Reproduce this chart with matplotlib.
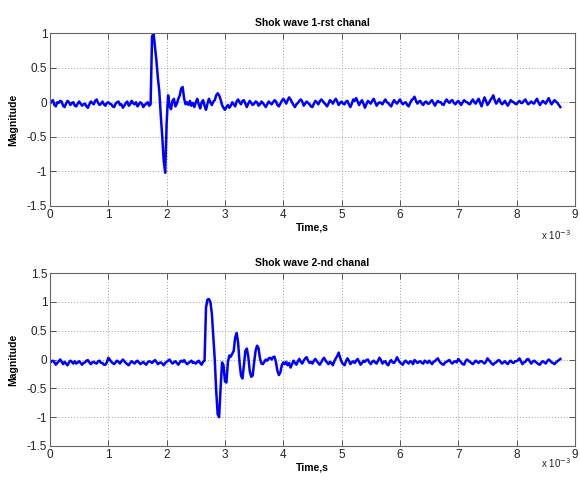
import matplotlib
matplotlib.use("Agg")
import matplotlib.pyplot as plt
import numpy as np
from matplotlib.ticker import FuncFormatter

plt.rcParams['font.family'] = ['Liberation Sans', 'DejaVu Sans']
plt.rcParams['axes.unicode_minus'] = False

dt = 0.025e-3  # sampling step, s

# channel 1 samples (0 .. 8.75 ms), 20 samples per row = 0.5 ms
ch1 = [
    -0.02, 0.01, 0.03, -0.04, -0.06, 0.00, -0.01, 0.02, 0.01, -0.05, -0.07, -0.02, 0.02, 0.00, -0.04, -0.01, 0.00, -0.05, -0.06, -0.02,
    0.01, -0.02, -0.05, -0.03, -0.02, -0.06, -0.08, -0.03, 0.01, -0.01, -0.03, 0.02, 0.04, -0.01, -0.04, -0.02, 0.01, -0.03, -0.05, -0.01,
    0.00, -0.02, -0.03, -0.06, -0.07, -0.02, 0.00, 0.01, -0.04, -0.03, -0.08, -0.05, -0.01, 0.01, -0.05, -0.03, 0.02, -0.01, -0.03, 0.00,
    -0.06, -0.03, 0.00, -0.02, -0.07, -0.04, -0.02, 0.00, -0.05, -0.03, 0.95, 1.00, 0.80, 0.60, 0.35, 0.15, -0.20, -0.50, -0.85, -1.02,
    -0.30, 0.10, -0.05, -0.10, 0.02, 0.05, -0.06, -0.02, 0.05, 0.10, 0.20, 0.22, 0.05, -0.03, 0.00, -0.04, 0.02, -0.05, -0.01, -0.07,
    0.00, 0.05, -0.03, -0.09, 0.00, 0.03, -0.05, -0.11, -0.02, 0.05, 0.00, -0.04, 0.01, 0.03, 0.10, 0.13, 0.10, 0.04, -0.04, -0.08,
    -0.11, -0.07, -0.04, -0.08, -0.05, 0.00, -0.03, -0.06, 0.01, 0.04, 0.00, -0.03, 0.02, 0.03, -0.02, -0.07, -0.02, 0.02, -0.01, -0.04,
    -0.02, 0.01, 0.00, -0.05, -0.03, 0.01, -0.01, -0.04, -0.07, -0.03, 0.01, -0.01, -0.03, 0.00, 0.03, 0.01, -0.04, -0.06, -0.02, 0.02,
    0.05, 0.02, -0.02, 0.03, 0.07, 0.04, 0.00, -0.04, -0.07, -0.03, -0.01, 0.02, 0.04, 0.01, -0.05, -0.02, 0.01, -0.01, -0.03, -0.06,
    -0.07, -0.02, 0.02, 0.00, -0.03, 0.01, 0.04, 0.02, -0.01, -0.03, -0.06, -0.02, 0.03, 0.01, -0.02, 0.02, 0.05, 0.01, -0.04, -0.01,
    0.01, -0.02, -0.03, 0.01, 0.02, -0.03, -0.07, -0.02, 0.04, 0.02, 0.06, 0.01, -0.04, 0.00, 0.03, -0.02, -0.08, -0.03, 0.02, 0.00,
    -0.02, 0.02, 0.05, 0.00, -0.05, -0.02, 0.00, -0.01, -0.03, 0.01, 0.04, 0.00, -0.01, -0.04, -0.06, -0.01, 0.03, 0.00, -0.02, 0.01,
    0.04, 0.00, -0.03, -0.01, 0.00, -0.04, -0.06, -0.01, 0.03, 0.05, 0.08, 0.02, -0.02, 0.01, 0.02, -0.02, -0.04, 0.00, 0.01, -0.02,
    -0.02, 0.01, 0.03, -0.01, -0.05, -0.01, 0.02, 0.00, 0.00, -0.03, -0.04, 0.01, 0.04, 0.01, -0.01, 0.02, 0.03, -0.01, -0.03, 0.00,
    0.02, -0.01, -0.04, 0.00, 0.03, 0.01, 0.00, -0.02, -0.03, 0.01, 0.04, 0.00, -0.02, 0.02, 0.05, -0.01, -0.06, 0.01, 0.07, 0.02,
    -0.04, -0.01, 0.03, 0.06, 0.10, 0.03, -0.02, 0.01, 0.05, 0.00, -0.03, -0.01, 0.02, -0.02, -0.05, -0.01, 0.03, 0.01, 0.00, -0.02,
    -0.03, 0.00, 0.02, -0.01, -0.01, 0.02, 0.04, 0.00, -0.03, -0.01, 0.01, -0.01, -0.02, 0.02, 0.05, 0.00, -0.04, -0.01, 0.02, 0.00,
    -0.02, 0.02, 0.06, 0.01, -0.03, 0.00, 0.03, 0.01, -0.01, -0.04, -0.07,
]

# channel 2 samples (0 .. 8.75 ms), 20 samples per row = 0.5 ms
ch2 = [
    -0.06, -0.03, -0.02, -0.05, -0.09, -0.06, -0.03, 0.00, -0.04, -0.08, -0.04, -0.07, -0.10, -0.05, -0.02, -0.04, -0.07, -0.03, -0.07, -0.05,
    -0.03, -0.06, -0.09, -0.06, -0.05, -0.02, -0.01, -0.05, -0.08, -0.05, -0.04, -0.06, -0.07, -0.03, -0.02, -0.06, -0.06, -0.09, -0.09, -0.05,
    0.03, 0.00, -0.04, -0.06, -0.08, -0.05, -0.02, -0.04, -0.07, -0.03, 0.00, -0.03, -0.06, -0.08, -0.10, -0.06, -0.03, -0.05, -0.07, -0.04,
    -0.02, -0.05, -0.08, -0.06, -0.04, -0.07, -0.09, -0.05, -0.03, -0.04, -0.06, -0.03, -0.01, -0.04, -0.08, -0.06, -0.05, -0.07, -0.10, -0.06,
    -0.04, -0.02, 0.00, -0.04, -0.07, -0.05, -0.03, -0.06, -0.09, -0.05, -0.02, -0.04, -0.01, -0.05, -0.08, -0.06, -0.04, -0.02, -0.06, -0.05,
    -0.07, -0.04, -0.02, -0.06, -0.09, -0.04, -0.02, 0.90, 1.04, 1.05, 1.00, 0.80, 0.40, 0.00, -0.55, -0.95, -1.00, -0.50, -0.05, -0.10,
    -0.38, -0.40, -0.05, 0.07, 0.05, 0.10, 0.15, 0.38, 0.46, 0.30, -0.05, -0.28, -0.33, -0.10, 0.15, 0.19, 0.05, -0.20, -0.30, -0.28,
    -0.05, 0.15, 0.24, 0.20, 0.02, -0.07, -0.08, -0.04, 0.00, -0.02, 0.02, 0.03, 0.00, 0.04, 0.05, -0.05, -0.20, -0.27, -0.22, -0.10,
    -0.05, -0.08, -0.04, -0.10, -0.06, -0.14, -0.08, -0.02, -0.06, -0.09, -0.03, 0.01, -0.04, -0.07, -0.02, 0.02, 0.04, -0.02, -0.06, -0.04,
    -0.07, -0.02, 0.01, -0.03, -0.06, -0.09, -0.05, 0.00, 0.03, -0.02, -0.05, -0.08, -0.04, -0.06, -0.10, -0.03, 0.02, 0.06, 0.12, 0.03,
    -0.04, -0.08, -0.10, -0.03, 0.02, -0.02, -0.08, -0.05, -0.03, -0.06, -0.02, 0.01, -0.04, -0.09, -0.06, -0.02, -0.04, -0.01, 0.00, -0.05,
    -0.08, -0.04, -0.02, -0.05, -0.07, -0.02, 0.03, -0.01, -0.07, -0.04, -0.03, -0.08, -0.10, -0.04, -0.01, -0.05, -0.06, -0.02, 0.04, -0.01,
    -0.05, -0.07, -0.09, -0.04, -0.02, -0.05, -0.07, -0.03, -0.04, -0.08, -0.01, -0.03, -0.06, -0.04, -0.03, -0.06, -0.07, -0.02, -0.04, -0.06,
    -0.02, -0.05, -0.08, -0.04, -0.03, 0.00, 0.02, -0.03, -0.06, -0.08, -0.09, -0.05, -0.04, -0.02, -0.01, -0.05, -0.07, -0.04, -0.03, -0.05,
    0.01, -0.02, -0.05, -0.08, -0.09, -0.03, 0.00, -0.02, -0.04, -0.06, -0.08, -0.05, -0.02, -0.04, -0.06, -0.03, -0.03, -0.05, -0.07, -0.04,
    0.02, -0.01, -0.04, -0.07, -0.09, -0.06, -0.05, -0.02, -0.01, -0.04, -0.07, -0.05, -0.03, -0.06, -0.08, -0.04, -0.02, -0.05, -0.06, -0.03,
    -0.03, -0.01, 0.02, -0.03, -0.08, -0.05, -0.04, 0.00, 0.01, -0.03, -0.07, -0.04, -0.02, -0.04, -0.06, -0.08, -0.09, -0.05, -0.03, -0.05,
    -0.07, -0.03, 0.00, -0.02, -0.05, -0.06, -0.08, -0.05, -0.03, -0.01, 0.01,
]

titles = ['Shok wave 1-rst chanal', 'Shok wave 2-nd chanal']
ylims = [(-1.5, 1.0), (-1.5, 1.5)]
yticks = [[-1.5, -1, -0.5, 0, 0.5, 1], [-1.5, -1, -0.5, 0, 0.5, 1, 1.5]]

t1 = np.arange(len(ch1)) * dt
t2 = np.arange(len(ch2)) * dt

fig = plt.figure(figsize=(5.8, 4.8), dpi=100)
ax1 = fig.add_axes([0.0862, 0.571, 0.905, 0.360])
ax2 = fig.add_axes([0.0862, 0.071, 0.905, 0.360])

for ax, t, y, title, yl, yt in zip([ax1, ax2], [t1, t2], [ch1, ch2],
                                   titles, ylims, yticks):
    ax.plot(t, y, color='#0000ff', linewidth=1.8)
    ax.set_xlim(0, 9e-3)
    ax.set_ylim(*yl)
    ax.set_xticks(np.arange(10) * 1e-3)
    ax.set_yticks(yt)
    ax.xaxis.set_major_formatter(FuncFormatter(lambda v, p: f"{v * 1e3:g}"))
    ax.yaxis.set_major_formatter(FuncFormatter(lambda v, p: f"{v:g}"))
    ax.grid(True, color='#a0a0a0', linestyle=(0, (1, 2)), linewidth=0.7)
    ax.tick_params(direction='in', top=True, right=True, labelsize=8.5,
                   length=4, width=0.7, colors='#555555', labelcolor='#222222',
                   pad=2)
    for s in ax.spines.values():
        s.set_color('#666666')
        s.set_linewidth(0.8)
    ax.set_title(title, fontsize=7.5, fontweight='bold', pad=5)
    ax.set_ylabel('Magnitude', fontsize=7.5, fontweight='bold', labelpad=6)
    ax.set_xlabel('Time,s', fontsize=7.5, fontweight='bold', labelpad=1)

# scale factor for the time axis
fig.text(0.932, 0.500, 'x 10$^{-3}$', fontsize=7, color='#222222')
fig.text(0.932, 0.026, 'x 10$^{-3}$', fontsize=7, color='#222222')

fig.savefig('out.png', dpi=100)
